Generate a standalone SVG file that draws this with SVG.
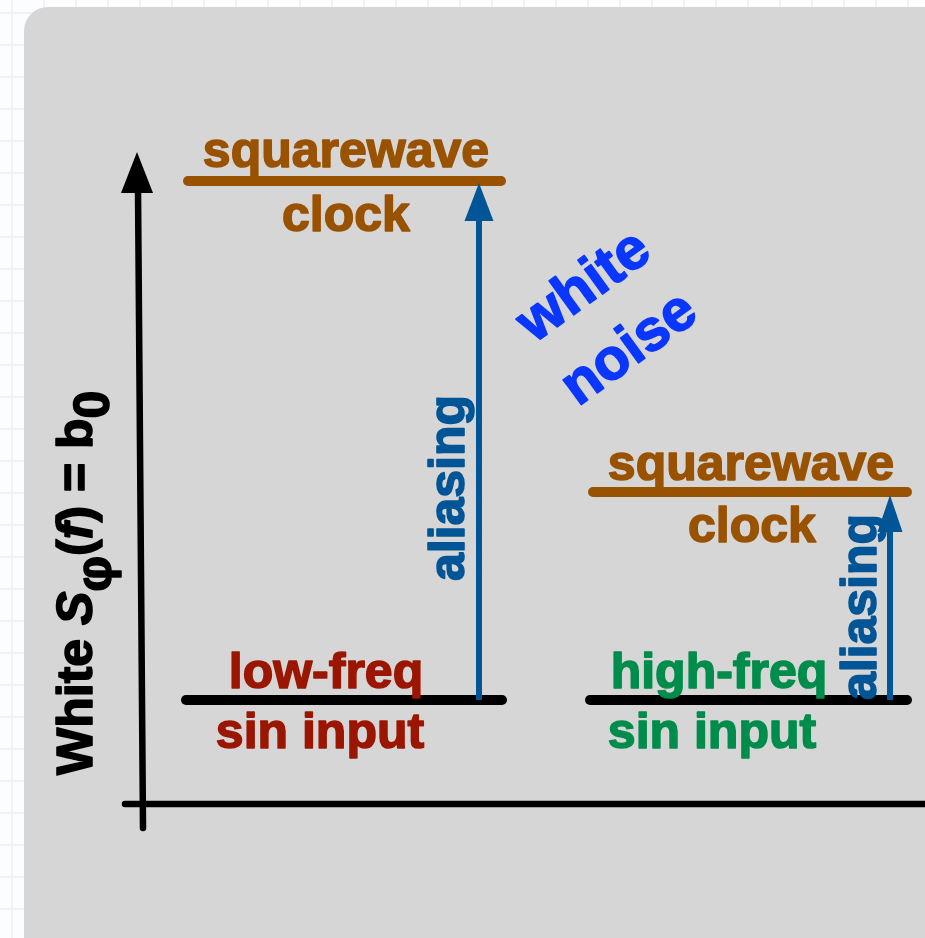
<svg xmlns="http://www.w3.org/2000/svg" width="925" height="938" viewBox="0 0 925 938">
<style>
  text { font-family: "Liberation Sans", Arial, Helvetica, sans-serif; font-weight: 700; font-size: 50px; stroke-width: 1.6; stroke-linejoin: round; }
  .blk { fill: #000; stroke: #000; }
  .brown { fill: #995200; stroke: #995200; }
  .red { fill: #9b1600; stroke: #9b1600; }
  .green { fill: #008c4b; stroke: #008c4b; }
  .blue { fill: #005596; stroke: #005596; }
  .bright { fill: #0a37ff; stroke: #0a37ff; font-size: 58px; }
  .lvl { stroke-width: 10; stroke-linecap: round; fill: none; }
  .axis { stroke: #000; stroke-width: 6.5; stroke-linecap: round; fill: none; }
  .alias { stroke: #005596; stroke-width: 6; fill: none; }
</style>
<defs>
  <pattern id="grid" x="0" y="0" width="32" height="32" patternUnits="userSpaceOnUse">
    <path d="M12 0V32M0 13H32" stroke="#edf3f9" stroke-width="2" fill="none"/>
  </pattern>
</defs>
<rect x="0" y="0" width="925" height="938" fill="#fcfdfe"/>
<rect x="0" y="0" width="925" height="938" fill="url(#grid)"/>
<rect x="24" y="7" width="930" height="960" rx="24" fill="#d6d6d6"/>

<g id="axes">
  <line class="axis" x1="125" y1="804" x2="930" y2="804"/>
  <line class="axis" x1="143" y1="828" x2="138" y2="190"/>
  <polygon points="137,152 121,193 153,193" fill="#000"/>
</g>

<g id="ylabel">
  <text class="blk" transform="translate(92,775) rotate(-90)">White <tspan font-style="italic">S</tspan><tspan dy="19">φ</tspan><tspan dy="-19">(</tspan><tspan font-style="italic">f</tspan>) = b<tspan dy="17">0</tspan></text>
</g>

<g id="clock-left">
  <line class="lvl" stroke="#995200" x1="188" y1="181" x2="501" y2="181"/>
  <text class="brown" x="346" y="167" text-anchor="middle">squarewave</text>
  <text class="brown" x="346" y="231" text-anchor="middle">clock</text>
</g>

<g id="input-left">
  <line class="lvl" stroke="#000" x1="186" y1="700" x2="502" y2="700"/>
  <text class="red" x="326" y="688" text-anchor="middle">low-freq</text>
  <text class="red" x="320" y="748" text-anchor="middle">sin input</text>
</g>

<g id="clock-right">
  <line class="lvl" stroke="#995200" x1="593" y1="492" x2="907" y2="492"/>
  <text class="brown" x="751" y="480" text-anchor="middle">squarewave</text>
  <text class="brown" x="752" y="542" text-anchor="middle">clock</text>
</g>

<g id="input-right">
  <line class="lvl" stroke="#000" x1="590" y1="700" x2="907" y2="700"/>
  <text class="green" x="719" y="688" text-anchor="middle">high-freq</text>
  <text class="green" x="712" y="748" text-anchor="middle">sin input</text>
</g>

<g id="connectors">
  <line class="alias" x1="479" y1="700" x2="479" y2="218"/>
  <polygon points="479,183 464.5,221 493.5,221" fill="#005596"/>
  <line class="alias" x1="890" y1="700" x2="890" y2="529"/>
  <polygon points="890,495 877.5,532 902.5,532" fill="#005596"/>
</g>

<g id="alias-labels">
  <text class="blue" transform="translate(464,488) rotate(-90)" text-anchor="middle">aliasing</text>
  <text class="blue" transform="translate(876,607) rotate(-90)" text-anchor="middle">aliasing</text>
</g>

<g id="white-noise" transform="translate(607,318) rotate(-36)">
  <text class="bright" x="0" y="-22" text-anchor="middle">white</text>
  <text class="bright" x="0" y="55" text-anchor="middle">noise</text>
</g>
</svg>
